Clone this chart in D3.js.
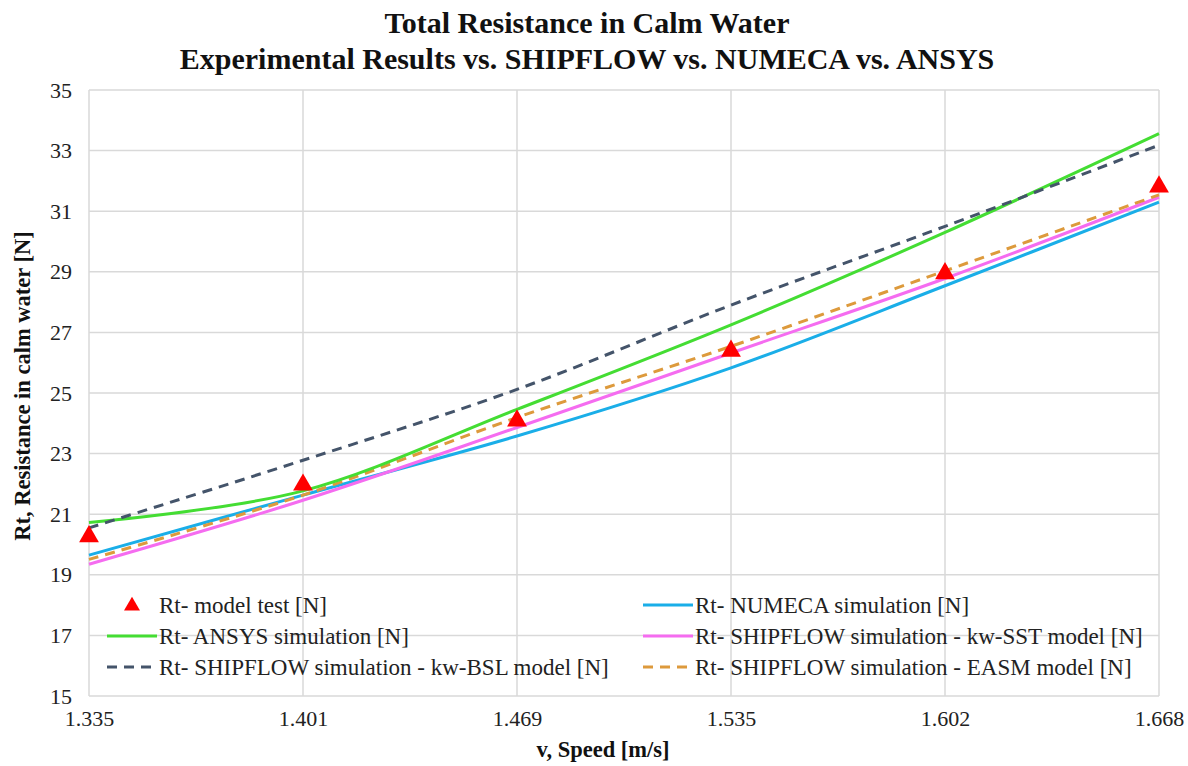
<!DOCTYPE html>
<html><head><meta charset="utf-8">
<script src="https://cdn.jsdelivr.net/npm/d3@7"></script>
<style>body{margin:0;background:#fff;}</style>
</head><body><svg id="c" width="1188" height="766"></svg>
<script>
const speeds = ["1.335","1.401","1.469","1.535","1.602","1.668"];
const yTicks = [15,17,19,21,23,25,27,29,31,33,35];
const modelTest = [20.3, 22.0, 24.12, 26.42, 28.98, 31.84];
const numeca    = [19.65, 21.63, 23.58, 25.83, 28.54, 31.30];
const ansys     = [20.73, 21.77, 24.46, 27.25, 30.30, 33.56];
const sst       = [19.35, 21.46, 23.86, 26.32, 28.78, 31.46];
const bsl       = [20.55, 22.78, 25.12, 27.90, 30.50, 33.18];
const easm      = [19.51, 21.63, 24.19, 26.54, 29.03, 31.54];

const series = [
  {name:"Rt- model test [N]", values:modelTest, type:"marker", color:"#ff0000"},
  {name:"Rt- NUMECA simulation [N]", values:numeca, type:"line", color:"#1aaee8", dash:null},
  {name:"Rt- ANSYS simulation [N]", values:ansys, type:"line", color:"#44dd33", dash:null},
  {name:"Rt- SHIPFLOW simulation - kw-SST model [N]", values:sst, type:"line", color:"#f56cf0", dash:null},
  {name:"Rt- SHIPFLOW simulation - kw-BSL model [N]", values:bsl, type:"line", color:"#44546a", dash:"10,7"},
  {name:"Rt- SHIPFLOW simulation - EASM model [N]", values:easm, type:"line", color:"#dd9a3c", dash:"10,7"}
];

const FONT = "'Liberation Serif','Times New Roman',serif";
const svg = d3.select("#c").attr("font-family", FONT);
const L = 89, R = 1159, T = 90, B = 696;
const x = d3.scalePoint().domain(speeds).range([L, R]);
const y = d3.scaleLinear().domain([15,35]).range([B, T]);

// gridlines
svg.append("g").selectAll("line").data(yTicks).join("line")
  .attr("x1", L).attr("x2", R).attr("y1", d=>y(d)).attr("y2", d=>y(d))
  .attr("stroke", "#d9d9d9").attr("stroke-width", 1.5);
svg.append("g").selectAll("line").data(speeds).join("line")
  .attr("x1", d=>x(d)).attr("x2", d=>x(d)).attr("y1", T).attr("y2", B)
  .attr("stroke", "#d9d9d9").attr("stroke-width", 1.5);

// axes
const yAxis = svg.append("g").attr("transform", `translate(${L},0)`)
  .call(d3.axisLeft(y).tickValues(yTicks).tickSize(0).tickPadding(17));
yAxis.attr("font-family", FONT).attr("font-size", 22);
yAxis.select(".domain").remove();
yAxis.selectAll("text").attr("fill", "#222");
const xAxis = svg.append("g").attr("transform", `translate(0,${B})`)
  .call(d3.axisBottom(x).tickSize(0).tickPadding(14));
xAxis.attr("font-family", FONT).attr("font-size", 22);
xAxis.select(".domain").remove();
xAxis.selectAll("text").attr("fill", "#222");

// lines
const line = d3.line().x((d,i)=>x(speeds[i])).y(d=>y(d)).curve(d3.curveCatmullRom.alpha(0));
const drawOrder = [1,3,5,2,4];
drawOrder.forEach(k=>{
  const s = series[k];
  svg.append("path").datum(s.values).attr("d", line)
    .attr("fill","none").attr("stroke", s.color).attr("stroke-width", 3)
    .attr("stroke-dasharray", s.dash);
});

// markers
const tri = d3.symbol().type(d3.symbolTriangle).size(170);
svg.append("g").selectAll("path").data(modelTest).join("path")
  .attr("d", tri).attr("transform", (d,i)=>`translate(${x(speeds[i])},${y(d)+1})`)
  .attr("fill", "#ff0000");

// titles
svg.append("text").attr("x", 587).attr("y", 33).attr("text-anchor","middle")
  .attr("font-size", 30).attr("font-weight","bold").attr("fill","#111")
  .text("Total Resistance in Calm Water");
svg.append("text").attr("x", 587).attr("y", 69).attr("text-anchor","middle")
  .attr("font-size", 30).attr("font-weight","bold").attr("fill","#111")
  .text("Experimental Results vs. SHIPFLOW vs. NUMECA vs. ANSYS");
svg.append("text").attr("x", 603).attr("y", 757).attr("text-anchor","middle")
  .attr("font-size", 22.5).attr("font-weight","bold").attr("fill","#111")
  .text("v, Speed [m/s]");
svg.append("text").attr("transform", "translate(30,386) rotate(-90)").attr("text-anchor","middle")
  .attr("font-size", 22.5).attr("font-weight","bold").attr("fill","#111")
  .text("Rt, Resistance in calm water [N]");

// legend
const legPos = [[107,605],[643,605],[107,636],[643,636],[107,667],[643,667]];
series.forEach((s,i)=>{
  const [lx,ly] = legPos[i];
  const g = svg.append("g");
  if (s.type === "marker") {
    g.append("path").attr("d", d3.symbol().type(d3.symbolTriangle).size(110))
      .attr("transform", `translate(${lx+25},${ly+1})`).attr("fill", s.color);
  } else {
    g.append("line").attr("x1", lx).attr("x2", lx+50).attr("y1", ly).attr("y2", ly)
      .attr("stroke", s.color).attr("stroke-width", 3).attr("stroke-dasharray", s.dash);
  }
  g.append("text").attr("x", lx+52).attr("y", ly+8).attr("font-size", 23).attr("fill","#222")
    .text(s.name);
});
</script></body></html>
